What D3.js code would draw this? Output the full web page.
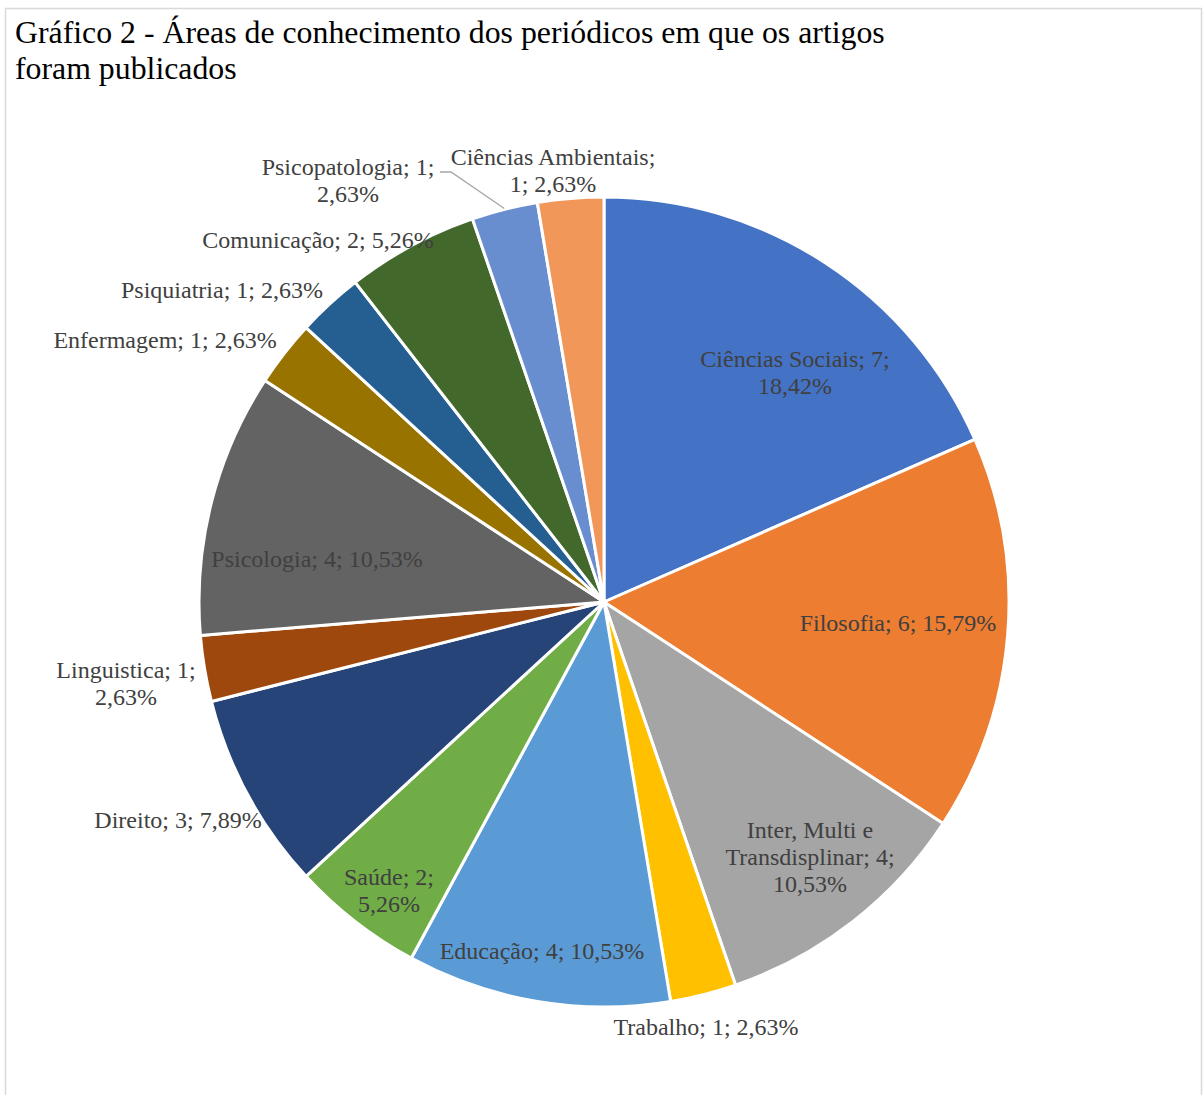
<!DOCTYPE html>
<html>
<head>
<meta charset="utf-8">
<script src="https://cdn.jsdelivr.net/npm/d3@7"></script>
<style>
  body { margin: 0; background: #fff; }
  svg { display: block; }
</style>
</head>
<body>
<div id="chart"></div>
<script>
// data (count of articles per area)
const areas = ["Ciências Sociais", "Filosofia", "Inter, Multi e Transdisplinar", "Trabalho",
  "Educação", "Saúde", "Direito", "Linguistica", "Psicologia", "Enfermagem",
  "Psiquiatria", "Comunicação", "Psicopatologia", "Ciências Ambientais"];
const counts = [7, 6, 4, 1, 4, 2, 3, 1, 4, 1, 1, 2, 1, 1];
const percentLabels = ["18,42%", "15,79%", "10,53%", "2,63%", "10,53%", "5,26%", "7,89%",
  "2,63%", "10,53%", "2,63%", "2,63%", "5,26%", "2,63%", "2,63%"];
const colors = ["#4472C4", "#ED7D31", "#A5A5A5", "#FFC000", "#5B9BD5", "#70AD47", "#264478",
  "#9E480E", "#636363", "#997300", "#255E91", "#43682B", "#698ED0", "#F1975A"];

// how each label wraps (lines) and where it sits, relative to pie centre
const labelLines = [
  ["Ciências Sociais; 7;", "18,42%"],
  ["Filosofia; 6; 15,79%"],
  ["Inter, Multi e", "Transdisplinar; 4;", "10,53%"],
  ["Trabalho; 1; 2,63%"],
  ["Educação; 4; 10,53%"],
  ["Saúde; 2;", "5,26%"],
  ["Direito; 3; 7,89%"],
  ["Linguistica; 1;", "2,63%"],
  ["Psicologia; 4; 10,53%"],
  ["Enfermagem; 1; 2,63%"],
  ["Psiquiatria; 1; 2,63%"],
  ["Comunicação; 2; 5,26%"],
  ["Psicopatologia; 1;", "2,63%"],
  ["Ciências Ambientais;", "1; 2,63%"]
];
const labelPos = [
  [191, -230], [294, 21], [206, 255], [102, 425], [-62, 349], [-215, 288], [-426, 218],
  [-478, 81], [-287, -43], [-439, -262], [-382, -312], [-286, -362], [-256, -422], [-51, -432]
];

const W = 1203, H = 1095;
const cx = 604, cy = 602, R = 405;

const svg = d3.select("#chart").append("svg")
  .attr("width", W).attr("height", H);

// chart frame (only top and left edges visible)
svg.append("rect")
  .attr("x", 5.5).attr("y", 8.5)
  .attr("width", 1196).attr("height", 1200)
  .attr("fill", "none")
  .attr("stroke", "#D9D9D9")
  .attr("stroke-width", 1.5);

// title
const title = svg.append("text")
  .attr("font-family", "'Liberation Serif', 'Times New Roman', serif")
  .attr("font-size", 31.8)
  .attr("fill", "#000");
title.append("tspan").attr("x", 15).attr("y", 43)
  .text("Gráfico 2 - Áreas de conhecimento dos periódicos em que os artigos");
title.append("tspan").attr("x", 15).attr("y", 79)
  .text("foram publicados");

const data = areas.map((a, i) => ({ area: a, count: counts[i], pct: percentLabels[i], i: i }));

const pie = d3.pie().sort(null).value(d => d.count);
const arc = d3.arc().innerRadius(0).outerRadius(R);
const arcs = pie(data);

const g = svg.append("g").attr("transform", `translate(${cx},${cy})`);

g.selectAll("path.slice")
  .data(arcs)
  .join("path")
  .attr("class", "slice")
  .attr("d", arc)
  .attr("fill", d => colors[d.data.i])
  .attr("stroke", "#fff")
  .attr("stroke-width", 3)
  .attr("stroke-linejoin", "round");

// leader line for Psicopatologia
const psico = arcs[12];
const edge = d3.arc().innerRadius(R + 1).outerRadius(R + 1).centroid(psico);
g.append("polyline")
  .attr("points", [[labelPos[12][0] + 92, labelPos[12][1] - 8], [labelPos[12][0] + 103, labelPos[12][1] - 8], edge].map(p => p.join(",")).join(" "))
  .attr("fill", "none")
  .attr("stroke", "#A6A6A6")
  .attr("stroke-width", 1.3);

// data labels
const lineH = 27;
const labels = g.selectAll("text.lbl")
  .data(arcs)
  .join("text")
  .attr("class", "lbl")
  .attr("text-anchor", "middle")
  .attr("font-family", "'Liberation Serif', 'Times New Roman', serif")
  .attr("font-size", 24)
  .attr("fill", "#404040");

labels.each(function(d) {
  const lines = labelLines[d.data.i];
  const [lx, ly] = labelPos[d.data.i];
  const top = ly - (lines.length - 1) * lineH / 2;
  d3.select(this).selectAll("tspan")
    .data(lines)
    .join("tspan")
    .attr("x", lx)
    .attr("y", (l, k) => top + k * lineH + 8)
    .text(l => l);
});
</script>
</body>
</html>
